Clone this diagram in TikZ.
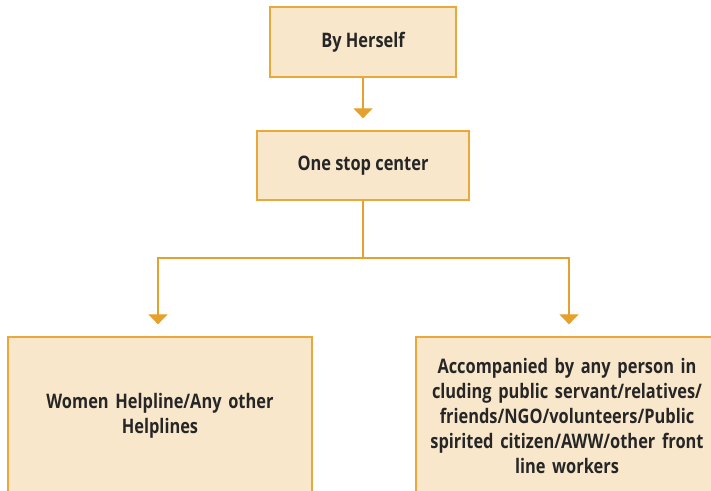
\documentclass[tikz,border=0pt]{standalone}
\usepackage{fontspec}
\setmainfont[FakeStretch=0.82]{Open Sans}
\usetikzlibrary{arrows.meta}
\definecolor{boxfill}{HTML}{F8E7CB}
\definecolor{boxline}{HTML}{E9A83A}
\definecolor{arrowcol}{HTML}{E5A12B}
\begin{document}
\begin{tikzpicture}[x=1pt,y=-1pt,
  box/.style={draw=boxline,line width=1.3pt,fill=boxfill,rectangle,inner sep=0pt,
    font=\fontsize{20}{25.2}\selectfont\bfseries,text=black!85,align=center},
  conn/.style={draw=arrowcol,line width=1.2pt},
  arr/.style={conn,-{Triangle[width=19pt,length=10pt]},shorten >=12pt}]
\useasboundingbox (0,0) rectangle (711,490);
\node[box,minimum width=186pt,minimum height=70pt] (b1) at (363,42) {By Herself};
\node[box,minimum width=212pt,minimum height=69pt] (b2) at (363,165.5) {One stop center};
\node[box,minimum width=304pt,minimum height=158pt,text width=295pt] (b3) at (160,416) {Women Helpline/Any other\\Helplines};
\node[box,minimum width=302pt,minimum height=158pt,text width=295pt] (b4) at (567,416) {Accompanied by any person in\\cluding public servant/relatives/\\friends/NGO/volunteers/Public\\spirited citizen/AWW/other front\\line workers};
\coordinate (split) at (363,258);
\draw[arr] (b1.south) -- (b2.north);
\draw[conn] (b2.south) -- (split);
\draw[arr] (split) -| ([xshift=-2pt]b3.north);
\draw[arr] (split) -| ([xshift=2pt]b4.north);
\end{tikzpicture}
\end{document}
